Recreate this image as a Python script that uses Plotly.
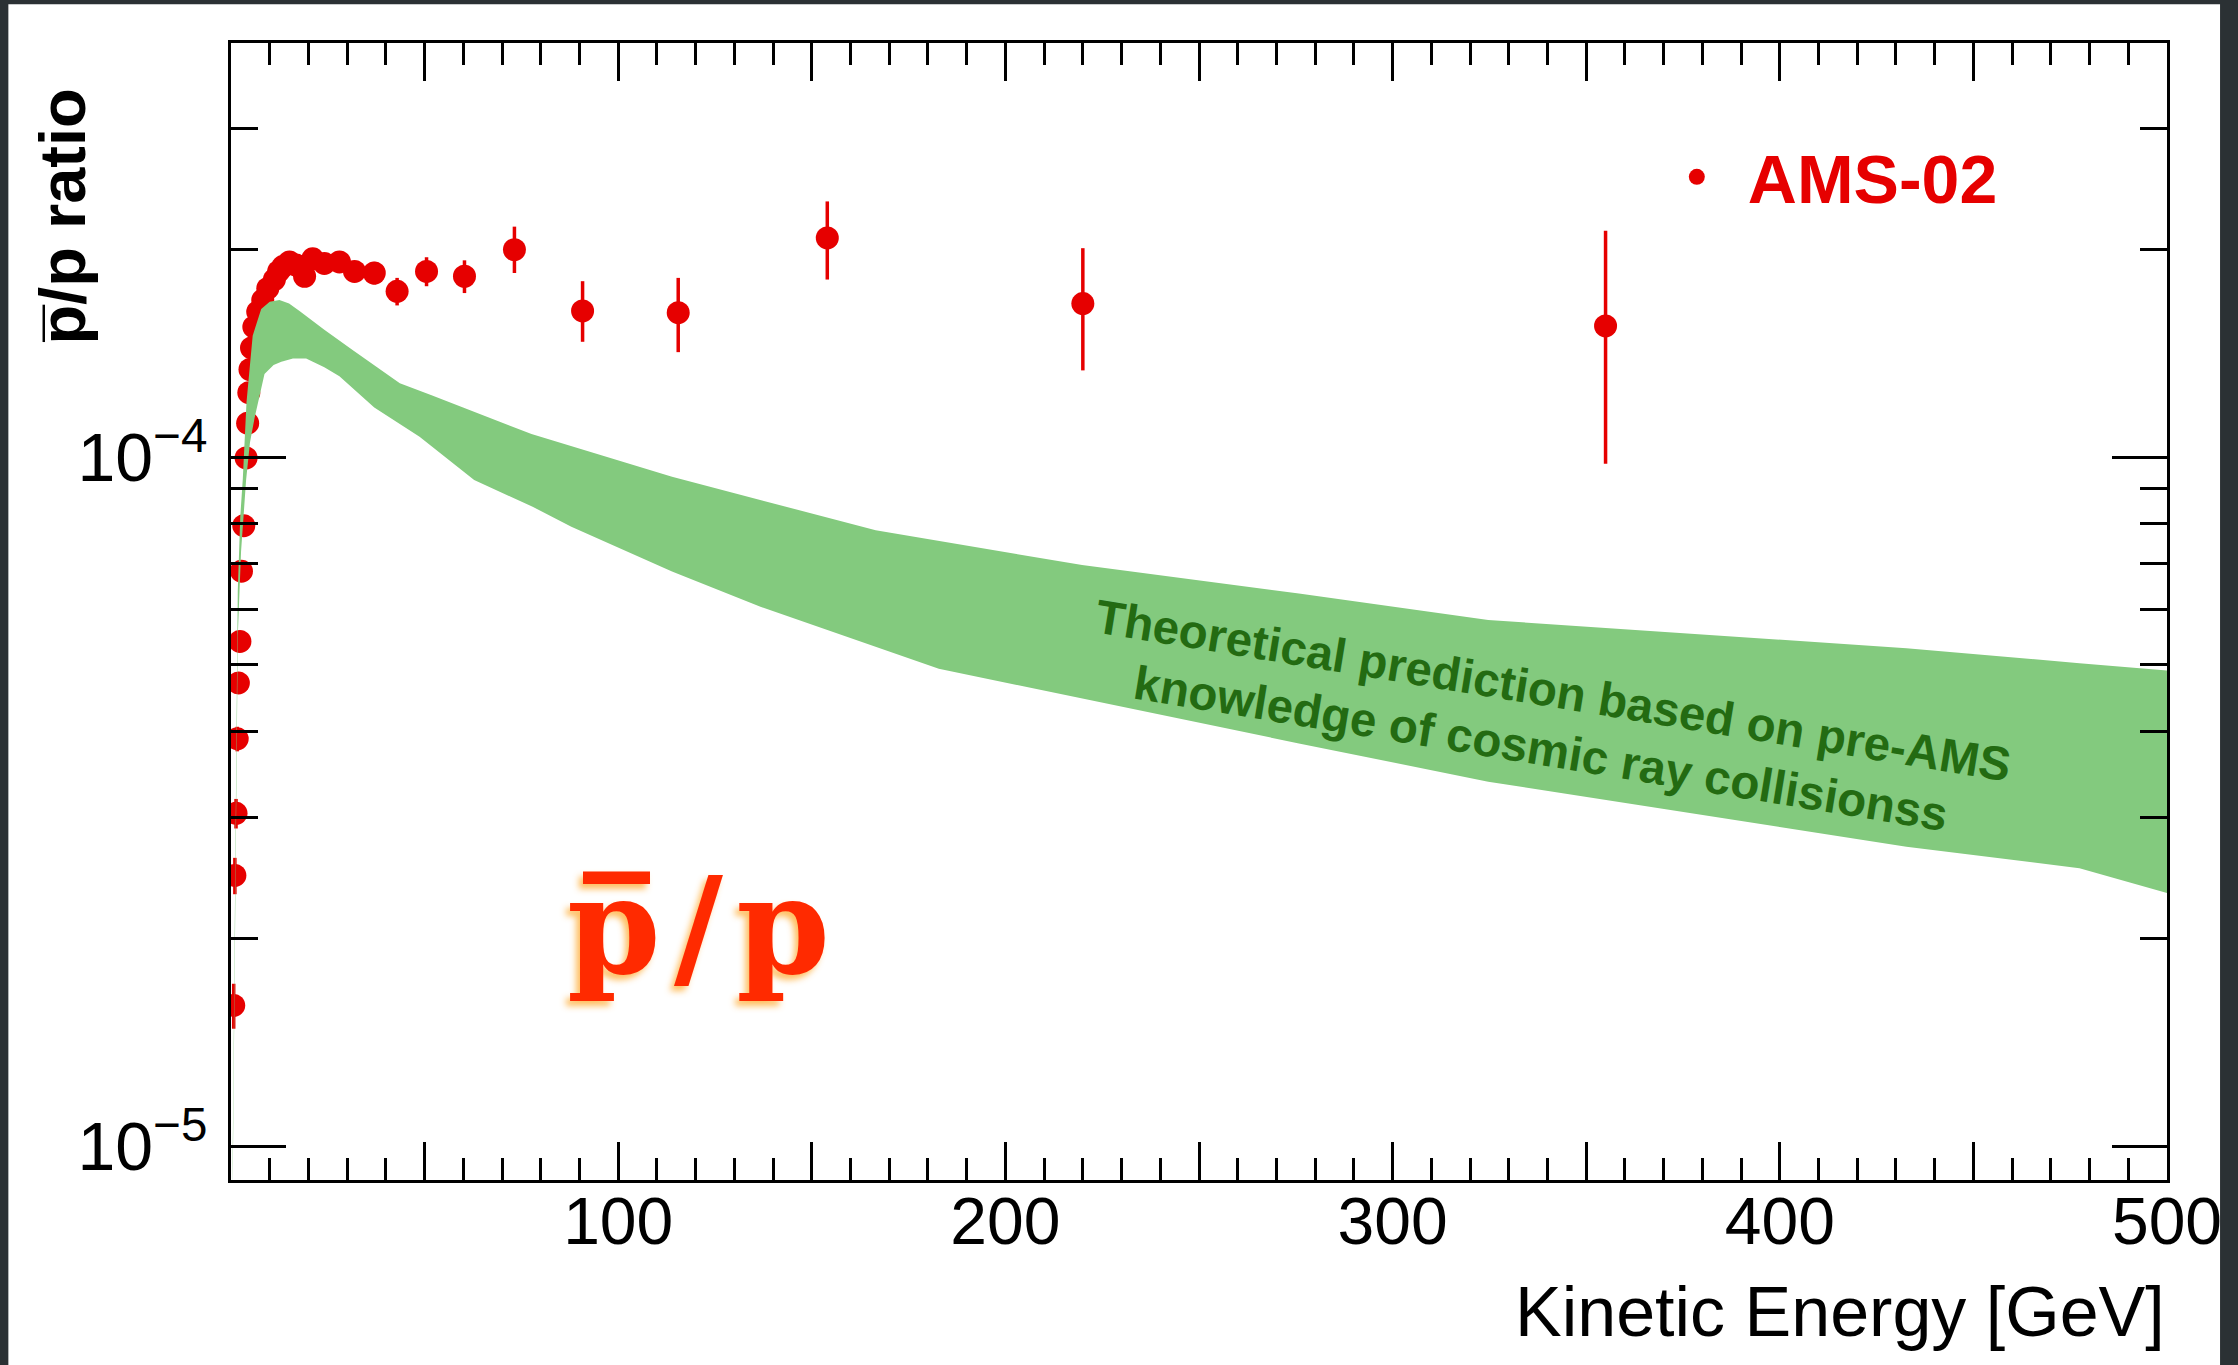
import plotly.graph_objects as go

# ---------------- data ----------------
ams_energy = [0.7, 1.0, 1.3, 1.6, 1.9, 2.3, 2.7, 3.3, 3.9, 4.3, 4.6, 4.9, 5.3, 5.9, 6.9,
              8.2, 9.5, 11.2, 12.3, 13.4, 15.1, 16.8, 19.0, 21.1, 24.1, 28.0, 31.9, 37.0,
              42.9, 50.5, 60.3, 73.2, 90.8, 115.5, 154.0, 220.0, 355.0]
ams_ratio = [1.60e-5, 2.47e-5, 3.04e-5, 3.90e-5, 4.70e-5, 5.40e-5, 6.83e-5, 7.95e-5,
             9.97e-5, 1.12e-4, 1.24e-4, 1.34e-4, 1.44e-4, 1.545e-4, 1.625e-4, 1.69e-4,
             1.757e-4, 1.81e-4, 1.86e-4, 1.89e-4, 1.92e-4, 1.90e-4, 1.83e-4, 1.94e-4,
             1.91e-4, 1.92e-4, 1.86e-4, 1.85e-4, 1.74e-4, 1.86e-4, 1.83e-4, 2.00e-4,
             1.63e-4, 1.62e-4, 2.08e-4, 1.67e-4, 1.55e-4]
ams_err_up = [1.2e-6, 1.5e-6, 1.5e-6, 1.6e-6, 1.5e-6, 1.5e-6, 1.6e-6, 1.8e-6, 2.0e-6,
              2.2e-6, 2.4e-6, 2.6e-6, 2.8e-6, 3.0e-6, 3.2e-6, 3.4e-6, 3.6e-6, 3.8e-6,
              4.0e-6, 4.2e-6, 4.4e-6, 4.6e-6, 4.8e-6, 5.2e-6, 5.6e-6, 6.0e-6, 6.5e-6,
              7.0e-6, 8.0e-6, 9.0e-6, 1.0e-5, 1.6e-5, 1.7e-5, 2.0e-5, 2.7e-5, 3.4e-5,
              5.8e-5]
ams_err_down = [1.2e-6, 1.5e-6, 1.5e-6, 1.6e-6, 1.5e-6, 1.5e-6, 1.6e-6, 1.8e-6, 2.0e-6,
                2.2e-6, 2.4e-6, 2.6e-6, 2.8e-6, 3.0e-6, 3.2e-6, 3.4e-6, 3.6e-6, 3.8e-6,
                4.0e-6, 4.2e-6, 4.4e-6, 4.6e-6, 4.8e-6, 5.2e-6, 5.6e-6, 6.0e-6, 6.5e-6,
                7.0e-6, 8.0e-6, 9.0e-6, 1.0e-5, 1.5e-5, 1.6e-5, 2.0e-5, 2.7e-5, 3.34e-5,
                5.72e-5]

# theoretical prediction band (pre-AMS)
band_upper_energy = [0.42, 1.0, 1.75, 2.4, 3.05, 4.0, 5.6, 7.8, 10.0, 12.5, 15.0, 17.7,
                     24.1, 31.4, 43.6, 51.8, 77.6, 113.9, 166.5, 219.8, 275.8, 324.7,
                     432.7, 477.4, 500.0]
band_upper = [9.4e-6, 2.3e-5, 6.4e-5, 8.2e-5, 9.3e-5, 1.2e-4, 1.5e-4, 1.64e-4, 1.68e-4,
              1.69e-4, 1.67e-4, 1.63e-4, 1.53e-4, 1.43e-4, 1.28e-4, 1.23e-4, 1.08e-4,
              9.36e-5, 7.83e-5, 6.97e-5, 6.34e-5, 5.80e-5, 5.28e-5, 5.02e-5, 4.90e-5]
band_lower_energy = [0.42, 1.0, 1.75, 2.6, 3.9, 4.9, 6.1, 8.65, 11.0, 13.0, 16.0, 19.4,
                     24.1, 28.0, 37.0, 48.7, 62.8, 77.9, 87.9, 113.9, 136.9, 182.8,
                     219.8, 275.8, 324.7, 432.7, 477.4, 500.0]
band_lower = [8.6e-6, 1.95e-5, 5.5e-5, 7.3e-5, 9.26e-5, 1.05e-4, 1.14e-4, 1.32e-4,
              1.36e-4, 1.375e-4, 1.39e-4, 1.39e-4, 1.35e-4, 1.31e-4, 1.18e-4, 1.07e-4,
              9.26e-5, 8.47e-5, 7.92e-5, 6.82e-5, 6.06e-5, 4.93e-5, 4.46e-5, 3.84e-5,
              3.38e-5, 2.72e-5, 2.53e-5, 2.33e-5]

x_major_ticks = [0, 50, 100, 150, 200, 250, 300, 350, 400, 450, 500]
x_tick_labels = ["", "", "100", "", "200", "", "300", "", "400", "", "500"]
y_major_ticks = [1e-5, 1e-4]
y_tick_labels = ["10<sup>\u22125</sup>", "10<sup>\u22124</sup>"]
y_minor_ticks = [2e-5, 3e-5, 4e-5, 5e-5, 6e-5, 7e-5, 8e-5, 9e-5, 2e-4, 3e-4]

RED = "#e60000"
GREEN_FILL = "#83ca7e"
FONT = "Liberation Sans, Arial, Helvetica, sans-serif"

fig = go.Figure()

fig.add_trace(go.Scatter(
    x=ams_energy, y=ams_ratio, mode="markers", name="AMS-02",
    marker=dict(color=RED, size=23, line=dict(width=0)),
    error_y=dict(type="data", symmetric=False, array=ams_err_up,
                 arrayminus=ams_err_down, color=RED, thickness=3.5, width=0),
))

fig.add_trace(go.Scatter(
    x=band_upper_energy + band_lower_energy[::-1],
    y=band_upper + band_lower[::-1],
    mode="lines", fill="toself", fillcolor=GREEN_FILL,
    line=dict(width=0, color=GREEN_FILL), showlegend=False, hoverinfo="skip",
))

tick_common = dict(ticks="inside", tickwidth=3, tickcolor="black", showline=True,
                   linecolor="black", linewidth=3, mirror="allticks",
                   showgrid=False, zeroline=False)

fig.update_layout(
    width=2238, height=1365, autosize=False,
    margin=dict(l=231, r=71, t=43, b=185, pad=0),
    paper_bgcolor="#2b3134", plot_bgcolor="white",
    font=dict(family=FONT, color="black"),
    xaxis=dict(range=[0, 500], tickmode="array", tickvals=x_major_ticks,
               ticktext=x_tick_labels, ticklen=38, ticklabelstandoff=-18,
               tickfont=dict(family=FONT, size=66, color="black"),
               minor=dict(dtick=10, tick0=0, ticks="inside", ticklen=22, tickwidth=3,
                          tickcolor="black", showgrid=False),
               **tick_common),
    yaxis=dict(type="log", range=[-5.0493, -3.399], tickmode="array",
               tickvals=y_major_ticks, ticktext=y_tick_labels, ticklabelstandoff=7,
               ticklen=55, tickfont=dict(family=FONT, size=68, color="black"),
               minor=dict(tickmode="array", tickvals=y_minor_ticks, ticks="inside",
                          ticklen=27, tickwidth=3, tickcolor="black", showgrid=False),
               **tick_common),
    showlegend=True,
    legend=dict(x=0.7308, y=0.882, xanchor="left", yanchor="middle",
                bgcolor="rgba(0,0,0,0)", borderwidth=0, itemwidth=92,
                font=dict(family=FONT, size=68, color=RED, weight="bold")),
    shapes=[dict(type="rect", xref="paper", yref="paper", layer="below",
                 x0=-0.1150, x1=1.0274, y0=-0.17, y1=1.034,
                 fillcolor="white", line=dict(width=0))],
    annotations=[
        dict(text="Kinetic Energy [GeV]", xref="paper", yref="paper",
             x=1.0, y=-0.116, xanchor="right", yanchor="middle", showarrow=False,
             font=dict(family=FONT, size=70, color="black")),
        dict(text="p\u0305/p ratio", xref="paper", yref="paper", textangle=-90,
             x=-0.0875, y=0.9613, xanchor="center", yanchor="top", showarrow=False,
             font=dict(family=FONT, size=65, color="black", weight="bold")),
        dict(text="Theoretical prediction based on pre-AMS", xref="paper", yref="paper",
             x=0.6829, y=0.4301, xanchor="center", yanchor="middle", textangle=9.3,
             showarrow=False,
             font=dict(family=FONT, size=47.5, color="#236b12", weight="bold")),
        dict(text="knowledge of cosmic ray collisionss", xref="paper", yref="paper",
             x=0.6767, y=0.3791, xanchor="center", yanchor="middle", textangle=9.3,
             showarrow=False,
             font=dict(family=FONT, size=47.5, color="#236b12", weight="bold")),
        dict(text="p\u0305\u200a/\u200ap", xref="paper", yref="paper",
             x=0.2415, y=0.2235, xanchor="center", yanchor="middle", showarrow=False,
             font=dict(family="DejaVu Serif, Liberation Serif, serif", size=134,
                       color="#ff2a00", weight="bold",
                       shadow="-4px 5px 6px rgba(255,180,70,0.85)")),
    ],
)

fig.write_html("out.html")
